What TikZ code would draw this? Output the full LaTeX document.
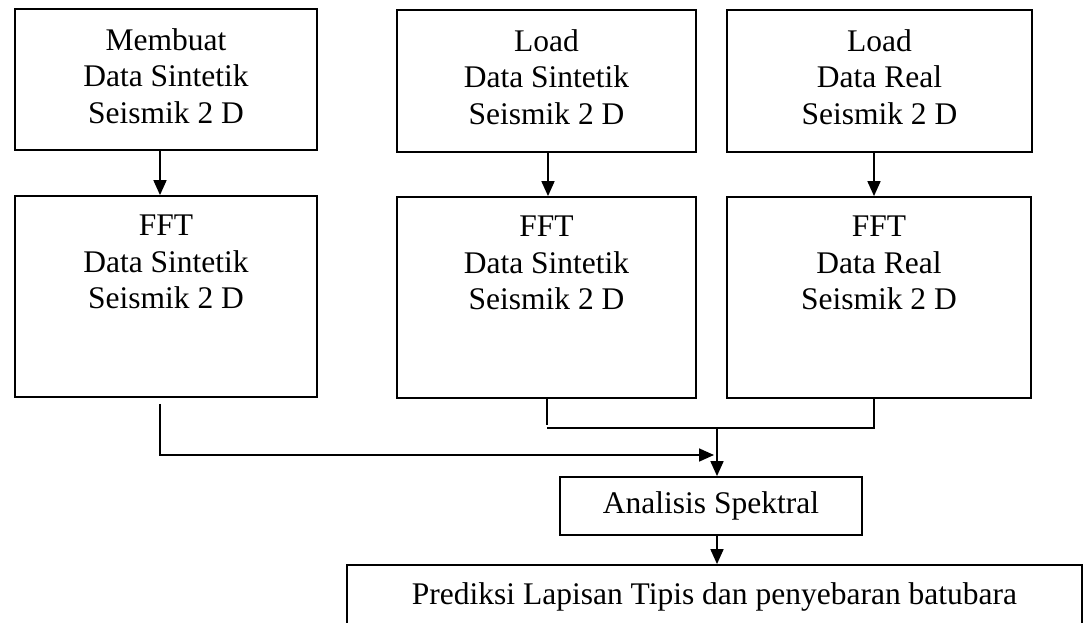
\documentclass[tikz,border=0pt]{standalone}
\usepackage{fontspec}
\setmainfont{Liberation Serif}
\usetikzlibrary{arrows.meta,calc}
\begin{document}
\begin{tikzpicture}[x=1pt,y=-1pt,
  box/.style={draw,line width=1.8pt,inner sep=0pt},
  txt/.style={inner sep=0pt,align=center,font=\fontsize{31.5}{36.5}\selectfont},
  conn/.style={line width=1.7pt},
  arr/.style={line width=1.7pt,-{Triangle[length=15pt,width=13pt]}}]
\useasboundingbox (0,0) rectangle (1087,622);
\clip (0,0) rectangle (1087,622);
% top boxes
\node[box,minimum width=302pt,minimum height=141pt] (b1) at (166,79.5) {};
\node[box,minimum width=299pt,minimum height=142pt] (b2) at (546.5,81) {};
\node[box,minimum width=305pt,minimum height=142pt] (b3) at (879.5,81) {};
\node[txt,anchor=north] (t1) at ([yshift=-20pt]b1.north) {Membuat\\Data Sintetik\\Seismik 2 D};
\node[txt,anchor=north] (t2) at ([yshift=-20pt]b2.north) {Load\\Data Sintetik\\Seismik 2 D};
\node[txt,anchor=north] (t3) at ([yshift=-20pt]b3.north) {Load\\Data Real\\Seismik 2 D};
% FFT boxes
\node[box,minimum width=302pt,minimum height=201pt] (f1) at (166,296.5) {};
\node[box,minimum width=299pt,minimum height=201pt] (f2) at (546.5,297.5) {};
\node[box,minimum width=304pt,minimum height=201pt] (f3) at (879,297.5) {};
\node[txt,anchor=north] (u1) at ([yshift=-20pt]f1.north) {FFT\\Data Sintetik\\Seismik 2 D};
\node[txt,anchor=north] (u2) at ([yshift=-20pt]f2.north) {FFT\\Data Sintetik\\Seismik 2 D};
\node[txt,anchor=north] (u3) at ([yshift=-20pt]f3.north) {FFT\\Data Real\\Seismik 2 D};
% lower boxes
\node[box,txt,draw,line width=1.8pt,minimum width=302pt,minimum height=58pt] (ana) at (711,506) {Analisis Spektral};
\node[box,minimum width=735pt,minimum height=80pt] (pred) at (714.5,605) {};
\node[txt] (pt) at (714.5,597) {Prediksi Lapisan Tipis dan penyebaran batubara};
% junction coordinates
\coordinate (jtop) at (717,428);
\coordinate (jl) at (717,455);
% arrows top -> FFT
\draw[arr] ([xshift=-6pt]b1.south) -- ([xshift=-6pt]f1.north);
\draw[arr] ([xshift=1.5pt]b2.south) -- ([xshift=1.5pt]f2.north);
\draw[arr] ([xshift=-5.5pt]b3.south) -- ([xshift=-5pt]f3.north);
% FFT2 and FFT3 merge
\draw[conn] ([xshift=0.5pt]f2.south) -- ([xshift=0.5pt,yshift=-26pt]f2.south);
\draw[conn] ([xshift=-5pt]f3.south) |- ([xshift=0.5pt]f2.south |- jtop);
\draw[arr] (jtop) -- (jtop |- ana.north);
% FFT1 to merge
\draw[arr] ([xshift=-6pt,yshift=-6pt]f1.south) |- ([xshift=-3pt]jl);
% Analisis -> Prediksi
\draw[arr] (ana.south -| jtop) -- (pred.north -| jtop);
\end{tikzpicture}
\end{document}
